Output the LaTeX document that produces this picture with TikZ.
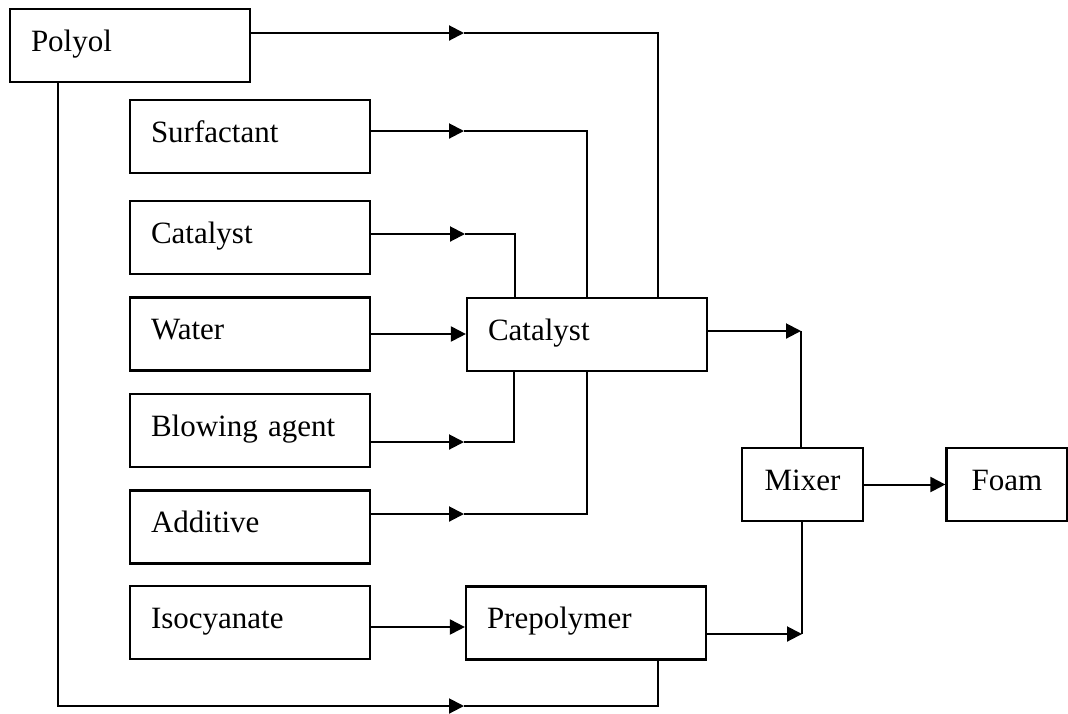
\documentclass[tikz,border=0pt]{standalone}
\usepackage{fontspec}
\setmainfont{Liberation Serif}
\usetikzlibrary{arrows.meta, positioning, calc}

\begin{document}
\begin{tikzpicture}[x=0.5pt, y=-0.5pt,
      proc/.style={draw,line width=1.1pt,minimum width=120pt,minimum height=36.5pt,
                   inner xsep=10.5pt,text height=11pt,text depth=5.5pt,
                   font=\fontsize{15.5}{18}\selectfont},
      wide/.style={proc,text width=99pt,align=left},
      small/.style={proc,minimum width=60.5pt,inner xsep=0pt,align=center},
      flow/.style={-{Triangle[length=7.5pt,width=7.5pt]},line width=1pt},
      feed/.style={line width=1pt}]

    \useasboundingbox (0,0) rectangle (1068,713);

    \node[wide] (polyol)  at (130,45.5)  {Polyol};
    \node[wide] (surf)    at (250,136.5) {Surfactant};
    \node[wide] (cat1)    at (250,237.5) {Catalyst};
    \node[wide] (water)   at (250,334)   {Water};
    \node[wide] (blow)    at (250,430.5) {Blowing agent};
    \node[wide] (add)     at (250,527)   {Additive};
    \node[wide] (iso)     at (250,622.5) {Isocyanate};
    \node[wide] (cat2)    at (587,334.5) {Catalyst};
    \node[wide] (prepol)  at (586,623)   {Prepolymer};
    \node[small] (mixer)  at (802.5,484.5) {Mixer};
    \node[small] (foam)   at (1007,484.5)  {Foam};

    % arrow tips on the feed lines
    \coordinate (tpoly)  at (464,33);
    \coordinate (tsurf)  at (464,131);
    \coordinate (tcat)   at (465,234);
    \coordinate (tblow)  at (464,442);
    \coordinate (tadd)   at (464,514);
    \coordinate (tpolyb) at (464,706);
    \coordinate (tmix)   at (801,331);
    \coordinate (tpre)   at (802,634);

    \draw[flow] (polyol.east |- tpoly) -- (tpoly);
    \draw[feed] (tpoly) -| ([xshift=35.5pt]cat2.north);
    \draw[flow] (surf.east |- tsurf) -- (tsurf);
    \draw[feed] (tsurf) -| (cat2.north);
    \draw[flow] (cat1.east |- tcat) -- (tcat);
    \draw[feed] (tcat) -| ([xshift=-36pt]cat2.north);
    \draw[flow] (water.east) -- (water.east -| cat2.west);
    \draw[flow] (blow.east |- tblow) -- (tblow);
    \draw[feed] (tblow) -| ([xshift=-36.5pt]cat2.south);
    \draw[flow] (add.east |- tadd) -- (tadd);
    \draw[feed] (tadd) -| (cat2.south);
    \draw[flow] ([yshift=-2.25pt]iso.east) -- ([yshift=-2.25pt]iso.east -| prepol.west);

    \draw[flow] ([xshift=-36pt]polyol.south) |- (tpolyb);
    \draw[feed] (tpolyb) -| ([xshift=36pt]prepol.south);

    \draw[flow] (cat2.east |- tmix) -- (tmix);
    \draw[feed] (tmix) -- (tmix |- mixer.north);
    \draw[flow] (prepol.east |- tpre) -- (tpre);
    \draw[feed] (tpre) -- (tpre |- mixer.south);
    \draw[flow] (mixer) -- (foam);
  \end{tikzpicture}
\end{document}
